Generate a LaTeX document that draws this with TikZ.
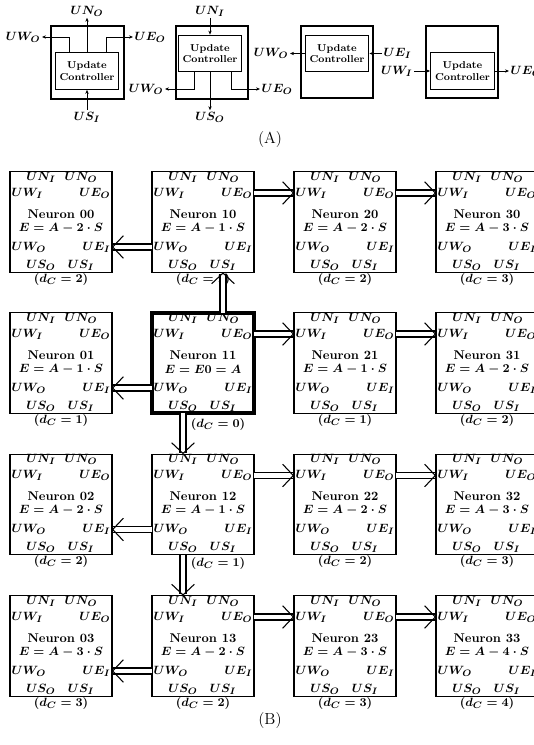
\documentclass[tikz,border=0pt]{standalone}
\usepackage{amsmath,amssymb}
\usepackage{xcolor}
\usepackage{tikz}
\usetikzlibrary{arrows.meta, positioning, calc}

\newcommand{\neuron}[7]{%
  \node[nbox, #6] (n#1) at (#2,#3) {};
  \node[port] (n#1ni) at ($(n#1)+(-20,-45)$) {$UN_I$};
  \node[port] (n#1no) at ($(n#1)+(20,-45)$) {$UN_O$};
  \node[port, anchor=west] (n#1wi) at ($(n#1.west)+(0,-29)$) {$UW_I$};
  \node[port, anchor=east] (n#1eo) at ($(n#1.east)+(0,-29)$) {$UE_O$};
  \node[port] (n#1name) at ($(n#1)+(0,-8)$) {Neuron #1};
  \node[port] (n#1en) at ($(n#1)+(0,6)$) {$E = #4$};
  \node[port, anchor=west] (n#1wo) at ($(n#1.west)+(0,25)$) {$UW_O$};
  \node[port, anchor=east] (n#1ei) at ($(n#1.east)+(0,25)$) {$UE_I$};
  \node[port] (n#1so) at ($(n#1)+(-20,43)$) {$US_O$};
  \node[port] (n#1si) at ($(n#1)+(20,43)$) {$US_I$};
  \node[port] (n#1dc) at ($(n#1)+(#7)$) {$(d_C = #5)$};
}

\begin{document}
\begin{tikzpicture}[
  x=0.75pt, y=-0.75pt,
  nbox/.style={rectangle, draw, line width=0.8pt, outer sep=0pt, minimum width=76.5pt, minimum height=75.5pt},
  port/.style={inner sep=1pt, font=\fontsize{9.5}{11}\selectfont\bfseries\boldmath},
  ctl/.style={rectangle, draw, line width=0.8pt, minimum width=46pt, minimum height=27.5pt, align=center, font=\fontsize{7.5}{8.5}\selectfont\bfseries},
  obox/.style={draw, line width=0.8pt},
  arrA/.style={draw, line width=0.5pt, -{Stealth[length=3pt,width=2.5pt]}},
  dbl/.style={draw, double, double distance=3.2pt, line width=1.3pt, -{Straight Barb[length=8pt,width=17pt,line width=0.8pt]}},
  captxt/.style={font=\fontsize{12}{14}\selectfont}
]
  \useasboundingbox (0,0) rectangle (534,745);

  % (A) update controllers
  \draw[obox] (51,26) rectangle (124,99);
  \draw[obox] (176,26) rectangle (248,99);
  \draw[obox] (301,26) rectangle (373,98);
  \draw[obox] (426,26) rectangle (498,98);

  \node[ctl] (c1) at (87,71)    {Update\\Controller};
  \node[ctl] (c2) at (210,53.5) {Update\\Controller};
  \node[ctl] (c3) at (337,53.5) {Update\\Controller};
  \node[ctl] (c4) at (462.5,71) {Update\\Controller};

  \node[port] (a1no) at (87,11) {$UN_O$};
  \node[port, anchor=east] (a1wo) at (42,37) {$UW_O$};
  \node[port, anchor=west] (a1eo) at (133,37) {$UE_O$};
  \node[port] (a1si) at (87,117) {$US_I$};

  \node[port] (a2ni) at (210,11) {$UN_I$};
  \node[port, anchor=east] (a2wo) at (165,89) {$UW_O$};
  \node[port, anchor=west] (a2eo) at (260,89) {$UE_O$};
  \node[port] (a2so) at (210,117) {$US_O$};

  \node[port, anchor=east] (a3wo) at (290,53.5) {$UW_O$};
  \node[port, anchor=west] (a3ei) at (382,53.5) {$UE_I$};

  \node[port, anchor=east] (a4wi) at (414,71) {$UW_I$};
  \node[port, anchor=west] (a4eo) at (509,71) {$UE_O$};

  \path[arrA] (c1.north) -- (a1no);
  \path[arrA] ($(c1.north)+(-18,0)$) |- (a1wo);
  \path[arrA] ($(c1.north)+(19,0)$) |- (a1eo);
  \path[arrA] (a1si) -- (c1.south);

  \path[arrA] (a2ni) -- (c2.north);
  \path[arrA] (c2.south) -- (a2so);
  \path[arrA] ($(c2.south)+(-16,0)$) |- (a2wo);
  \path[arrA] ($(c2.south)+(21,0)$) |- (a2eo);

  \path[arrA] (c3.west) -- (a3wo.east);
  \path[arrA] (a3ei.west) -- (c3.east);

  \path[arrA] (a4wi.east) -- (c4.west);
  \path[arrA] (c4.east) -- (a4eo.west);

  \node[captxt] (capA) at (270,140) {(A)};

  % (B) neuron grid
  \neuron{00}{61}{222}{A-2\cdot S}{2}{}{0,57}
  \neuron{10}{203}{222}{A-1\cdot S}{1}{}{0,57}
  \neuron{20}{345}{222}{A-2\cdot S}{2}{}{0,57}
  \neuron{30}{487}{222}{A-3\cdot S}{3}{}{0,57}

  \neuron{01}{61}{363}{A-1\cdot S}{1}{}{0,57}
  \neuron{11}{203}{363}{E0 = A}{0}{line width=3pt}{15,61}
  \neuron{21}{345}{363}{A-1\cdot S}{1}{}{0,57}
  \neuron{31}{487}{363}{A-2\cdot S}{2}{}{0,57}

  \neuron{02}{61}{504.5}{A-2\cdot S}{2}{}{0,57}
  \neuron{12}{203}{504.5}{A-1\cdot S}{1}{}{15,59}
  \neuron{22}{345}{504.5}{A-2\cdot S}{2}{}{0,57}
  \neuron{32}{487}{504.5}{A-3\cdot S}{3}{}{0,57}

  \neuron{03}{61}{646}{A-3\cdot S}{3}{}{0,57}
  \neuron{13}{203}{646}{A-2\cdot S}{2}{}{0,57}
  \neuron{23}{345}{646}{A-3\cdot S}{3}{}{0,57}
  \neuron{33}{487}{646}{A-4\cdot S}{4}{}{0,57}

  \path[dbl] (n10eo.east) -- (n20wi.west);
  \path[dbl] (n20eo.east) -- (n30wi.west);
  \path[dbl] (n10wo.west) -- (n00ei.east);

  \path[dbl] (n11.north -| n10si) -- (n10.south -| n10si);
  \path[dbl] (n11eo.east) -- (n21wi.west);
  \path[dbl] (n21eo.east) -- (n31wi.west);
  \path[dbl] (n11wo.west) -- (n01ei.east);
  \path[dbl] (n11.south -| n11so) -- (n12.north -| n11so);

  \path[dbl] (n12eo.east) -- (n22wi.west);
  \path[dbl] (n22eo.east) -- (n32wi.west);
  \path[dbl] (n12wo.west) -- (n02ei.east);
  \path[dbl] (n12.south -| n12so) -- (n13.north -| n12so);

  \path[dbl] (n13eo.east) -- (n23wi.west);
  \path[dbl] (n23eo.east) -- (n33wi.west);
  \path[dbl] (n13wo.west) -- (n03ei.east);

  \node[captxt] (capB) at (270,720) {(B)};
\end{tikzpicture}
\end{document}
